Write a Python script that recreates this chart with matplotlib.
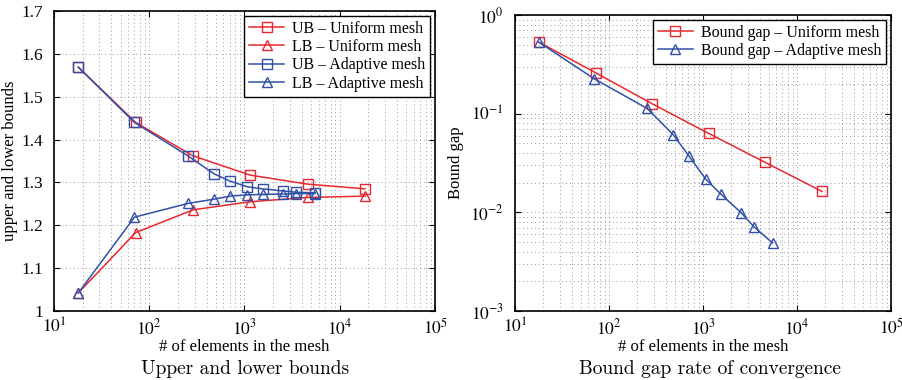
import math
import matplotlib
matplotlib.use("Agg")
import matplotlib.pyplot as plt
from matplotlib.ticker import FuncFormatter, LogLocator, MultipleLocator, NullFormatter

plt.rcParams['font.family'] = ['Liberation Serif', 'DejaVu Serif']
plt.rcParams['mathtext.fontset'] = 'stix'

# ---- data ----
n_uniform = [18, 72, 288, 1152, 4608, 18432]
ub_uniform = [1.569, 1.440, 1.362, 1.317, 1.296, 1.285]
lb_uniform = [1.042, 1.183, 1.236, 1.255, 1.265, 1.268]

n_adaptive = [18, 70, 255, 480, 705, 1070, 1550, 2550, 3500, 5500]
ub_adaptive = [1.569, 1.440, 1.362, 1.320, 1.303, 1.290, 1.285, 1.280, 1.277, 1.276]
lb_adaptive = [1.042, 1.219, 1.251, 1.261, 1.268, 1.271, 1.272, 1.273, 1.274, 1.274]

gap_uniform = [0.53, 0.26, 0.126, 0.063, 0.032, 0.0163]
gap_adaptive = [0.53, 0.225, 0.113, 0.0615, 0.0375, 0.0217, 0.0153, 0.0099, 0.0071, 0.0049]

RED = '#e8282e'
BLUE = '#3050a8'

fig = plt.figure(figsize=(9.03, 3.8), dpi=100)
ax1 = fig.add_axes([0.0598, 0.1816, 0.4219, 0.7894])
ax2 = fig.add_axes([0.5703, 0.1816, 0.4164, 0.7789])

mk = dict(markersize=6.5, markerfacecolor='none', markeredgewidth=1.0, linewidth=1.1)

ax1.plot(n_uniform, ub_uniform, 's-', color=RED, label='UB \u2013 Uniform mesh', **mk)
ax1.plot(n_uniform, lb_uniform, '^-', color=RED, label='LB \u2013 Uniform mesh', **mk)
ax1.plot(n_adaptive, ub_adaptive, 's-', color=BLUE, label='UB \u2013 Adaptive mesh', **mk)
ax1.plot(n_adaptive, lb_adaptive, '^-', color=BLUE, label='LB \u2013 Adaptive mesh', **mk)

ax2.plot(n_uniform, gap_uniform, 's-', color=RED, label='Bound gap \u2013 Uniform mesh', **mk)
ax2.plot(n_adaptive, gap_adaptive, '^-', color=BLUE, label='Bound gap \u2013 Adaptive mesh', **mk)

pow_fmt = FuncFormatter(lambda v, p: r'$10^{%d}$' % round(math.log10(v)))

for ax in (ax1, ax2):
    ax.set_xscale('log')
    ax.set_xlim(10, 1e5)
    ax.xaxis.set_major_locator(LogLocator(base=10, numticks=10))
    ax.xaxis.set_minor_locator(LogLocator(base=10, subs=range(2, 10), numticks=20))
    ax.xaxis.set_minor_formatter(NullFormatter())
    ax.xaxis.set_major_formatter(pow_fmt)
    ax.tick_params(which='both', direction='in', top=True, right=True, labelsize=12.5)
    ax.tick_params(axis='x', which='major', pad=5)
    ax.tick_params(axis='y', which='major', pad=8)
    ax.tick_params(which='major', length=4, width=0.8)
    ax.tick_params(which='minor', length=0)
    ax.grid(True, which='both', linestyle=(0, (1, 3)), color='#999999', linewidth=0.7)
    for s in ax.spines.values():
        s.set_linewidth(1.2)
    ax.set_xlabel('# of elements in the mesh', fontsize=12, labelpad=1)

ax1.set_ylim(1.0, 1.7)
ax1.yaxis.set_major_locator(MultipleLocator(0.1))
ax1.yaxis.set_major_formatter(FuncFormatter(lambda v, p: '%g' % round(v, 1)))
ax1.set_ylabel('upper and lower bounds', fontsize=12, labelpad=2)

ax2.set_yscale('log')
ax2.set_ylim(1e-3, 1)
ax2.yaxis.set_major_locator(LogLocator(base=10, numticks=10))
ax2.yaxis.set_minor_locator(LogLocator(base=10, subs=range(2, 10), numticks=20))
ax2.yaxis.set_minor_formatter(NullFormatter())
ax2.yaxis.set_major_formatter(pow_fmt)
ax2.set_ylabel('Bound gap', fontsize=12, labelpad=4)

leg_kw = dict(fontsize=11.5, fancybox=False, edgecolor='black', framealpha=1.0,
              handlelength=2.2, borderpad=0.3, labelspacing=0.15, handletextpad=0.5,
              borderaxespad=0.3)
l1 = ax1.legend(loc='upper right', **leg_kw)
l1.get_frame().set_linewidth(1.0)
l2 = ax2.legend(loc='upper right', **leg_kw)
l2.get_frame().set_linewidth(1.0)

fig.text(0.271, 0.03, 'Upper and lower bounds', ha='center', va='center',
         fontsize=14, family=['cmr10', 'DejaVu Serif'])
fig.text(0.786, 0.03, 'Bound gap rate of convergence', ha='center', va='center',
         fontsize=14, family=['cmr10', 'DejaVu Serif'])

fig.savefig('out.png', dpi=100)
